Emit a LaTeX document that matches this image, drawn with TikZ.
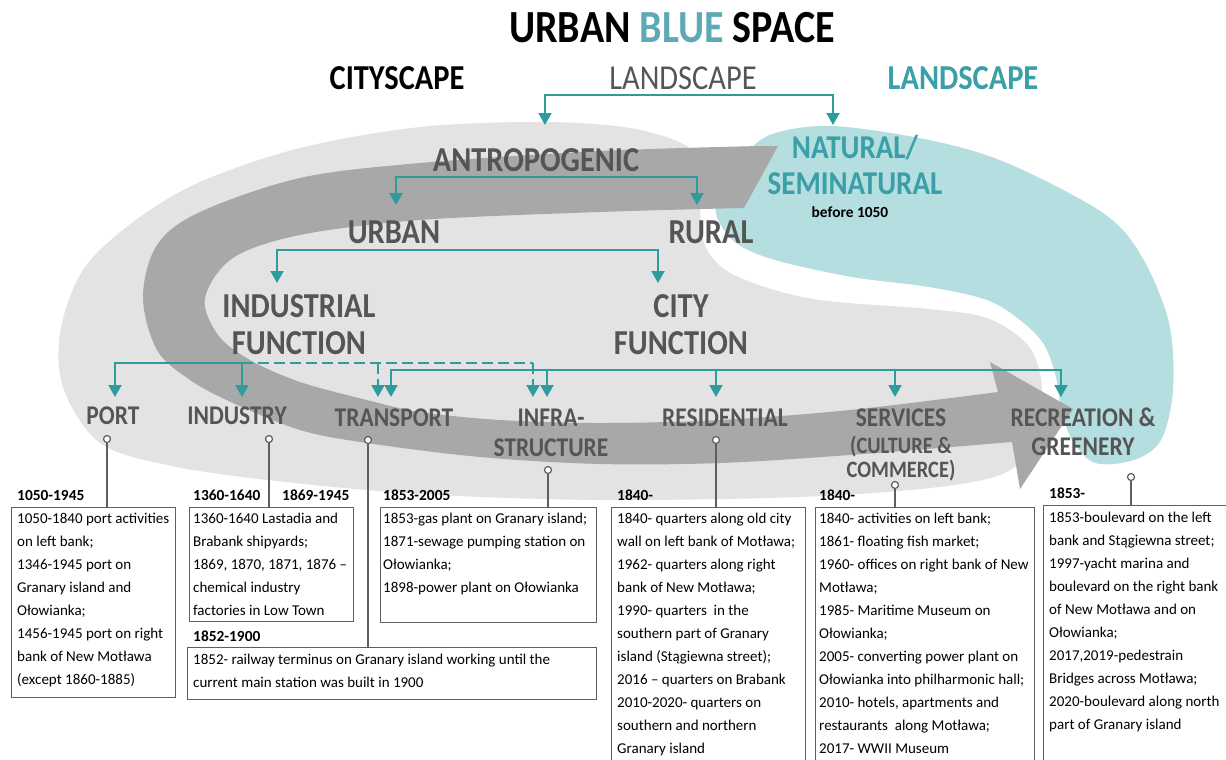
\documentclass[tikz,border=0pt]{standalone}
\usepackage{fontspec}
\setmainfont{Carlito}
\newfontfamily\labf{Carlito}[FakeStretch=0.87]
\usetikzlibrary{arrows.meta}
\definecolor{lgray}{HTML}{E3E3E3}
\definecolor{bandc}{HTML}{A8A8A8}
\definecolor{tfill}{HTML}{B4DEDF}
\definecolor{tline}{HTML}{2E9C9D}
\definecolor{ttext}{HTML}{3A9FA6}
\definecolor{tblue}{HTML}{5EA9B6}
\definecolor{gtext}{HTML}{555555}
\definecolor{bline}{HTML}{5F5F5F}
\newcommand\fl{\rule{0pt}{12pt}}
\tikzset{
  ttl/.style={font=\labf\bfseries\fontsize{46}{46}\selectfont, inner sep=0, anchor=base},
  big/.style={font=\labf\bfseries\fontsize{35}{35}\selectfont, text=gtext, inner sep=0, anchor=base},
  bigreg/.style={font=\labf\fontsize{35}{35}\selectfont, text=gtext, inner sep=0, anchor=base},
  nat/.style={font=\labf\bfseries\fontsize{33.3}{33}\selectfont, text=ttext, inner sep=0, anchor=base},
  lab/.style={font=\labf\bfseries\fontsize{27}{27}\selectfont, text=gtext, inner sep=0, anchor=base},
  labs/.style={font=\labf\bfseries\fontsize{23.5}{23}\selectfont, text=gtext, inner sep=0, anchor=base},
  tbr/.style={draw=tline, line width=2pt, arrows={Triangle[width=13pt,length=12pt]-Triangle[width=13pt,length=12pt]}},
  tar/.style={draw=tline, line width=2pt, arrows={-Triangle[width=13pt,length=12pt]}},
  tdash/.style={draw=tline, line width=2pt, dash pattern=on 11pt off 5pt},
  bx/.style={draw=bline, line width=1.4pt, fill=white, anchor=north west, inner sep=0},
  tx/.style={font=\fontsize{15}{23}\selectfont, align=left, anchor=north west, inner sep=0},
  hd/.style={font=\bfseries\fontsize{15.4}{15}\selectfont, anchor=base west, inner sep=0},
  lc/.style={circle, draw=bline, line width=1.2pt, fill=white, minimum size=7pt, inner sep=0},
  ld/.style={draw=bline, line width=1.4pt}
}
\begin{document}
\begin{tikzpicture}[x=1pt,y=-1pt]
\useasboundingbox (0,0) rectangle (1226,760);
% background shapes
\fill[lgray] plot[smooth cycle, tension=0.55] coordinates {
 (543,122) (420,127) (300,148) (200,182) (133,222) (83,270) (60,333) (64,390)
 (100,443) (167,465) (267,480) (420,494) (600,500) (800,497) (930,488) (1000,475)
 (1030,450) (1041,407) (1040,373) (1026,343) (987,318) (929,309) (813,299)
 (736,276) (706,248) (700,210) (703,170) (685,145) (630,128)};
\fill[tfill] plot[smooth cycle, tension=0.55] coordinates {
 (748,150) (775,133) (833,126) (929,140) (1007,163) (1103,213) (1142,257)
 (1169,323) (1173,390) (1161,440) (1134,460) (1095,463) (1072,440) (1061,407)
 (1055,373) (1043,343) (1020,320) (987,300) (929,287) (852,277) (775,260)
 (736,243) (717,217) (717,190) (728,167)};
\fill[bandc] (778,146) -- plot[smooth, tension=0.55] coordinates {
 (760,146) (600,151) (420,163) (300,178) (200,212) (157,245) (143,297) (157,350)
 (190,380) (233,403) (300,430) (367,443) (480,457) (600,464) (720,463) (850,455) (1012,442)}
 -- (1020,489) -- (1073,409) -- (990,362) -- plot[smooth, tension=0.55] coordinates {
 (998,392) (850,410) (720,420) (600,423) (500,420) (420,412) (367,400) (300,382)
 (250,360) (218,335) (205,298) (233,258) (300,235) (420,220) (600,212) (744,208)}
 -- cycle;

% titles
\node[ttl] (title) at (672,42.5) {URBAN \textcolor{tblue}{BLUE} SPACE};
\node[big, text=black] (cityscape) at (397,89) {CITYSCAPE};
\node[bigreg] (landscape) at (683,89) {LANDSCAPE};
\node[big, text=ttext] (landscape2) at (963,89) {LANDSCAPE};
\node[big] (antro) at (536,171) {ANTROPOGENIC};
\node[nat] (nat1) at (855,158.5) {NATURAL/};
\node[nat] (nat2) at (855,194.5) {SEMINATURAL};
\node[font=\bfseries\fontsize{15.4}{15}\selectfont, inner sep=0, anchor=base] (before) at (850,217.5) {before 1050};
\node[big] (urban) at (394,243) {URBAN};
\node[big] (rural) at (711,243) {RURAL};
\node[big] (indf1) at (299,317) {INDUSTRIAL};
\node[big] (indf2) at (299,354) {FUNCTION};
\node[big] (cityf1) at (681,317) {CITY};
\node[big] (cityf2) at (681,354) {FUNCTION};

% category labels
\node[lab] (port) at (113,424.5) {PORT};
\node[lab] (industry) at (237,424.5) {INDUSTRY};
\node[lab] (transport) at (394,426.5) {TRANSPORT};
\node[lab] (infra1) at (551,426.5) {INFRA-};
\node[lab] (infra2) at (551,456.5) {STRUCTURE};
\node[lab] (resid) at (725,426.5) {RESIDENTIAL};
\node[lab] (serv1) at (901,426.5) {SERVICES};
\node[labs] (serv2) at (901,453.4) {(CULTURE \&};
\node[labs] (serv3) at (901,477.4) {COMMERCE)};
\node[lab] (rec1) at (1083,426.5) {RECREATION \&};
\node[lab] (rec2) at (1083,455.5) {GREENERY};

% teal connectors
\coordinate (lsL) at (545,125); \coordinate (lsR) at (833,125); \coordinate (lsbar) at (683,95);
\draw[tbr] (lsL) |- (lsbar) -| (lsR);
\coordinate (anL) at (396,205); \coordinate (anR) at (697,205); \coordinate (anbar) at (536,177);
\draw[tbr] (anL) |- (anbar) -| (anR);
\coordinate (urL) at (277,283); \coordinate (urR) at (658,283); \coordinate (urbar) at (470,250);
\draw[tbr] (urL) |- (urbar) -| (urR);
% industrial function
\coordinate (pA) at (115,397); \coordinate (iA) at (242,397); \coordinate (indbar) at (180,363);
\draw[tbr] (pA) |- (indbar) -| (iA);
\coordinate (dj1) at (242,363); \coordinate (dj2) at (533,363); \coordinate (dj3) at (378,363);
\coordinate (tdA) at (378,397); \coordinate (fdA) at (533,397);
\draw[tdash] (dj1) -- (dj2);
\draw[tdash, arrows={-Triangle[width=13pt,length=12pt]}] (dj3) -- (tdA);
\draw[tdash, arrows={-Triangle[width=13pt,length=12pt]}] (dj2) -- (fdA);
% city function
\coordinate (tB) at (391,397); \coordinate (recA) at (1061,397); \coordinate (citybar) at (700,370);
\draw[tbr] (tB) |- (citybar) -| (recA);
\coordinate (c1) at (547,370); \coordinate (c1a) at (547,397);
\coordinate (c2) at (716,370); \coordinate (c2a) at (716,397);
\coordinate (c3) at (895,370); \coordinate (c3a) at (895,397);
\draw[tar] (c1) -- (c1a);
\draw[tar] (c2) -- (c2a);
\draw[tar] (c3) -- (c3a);

% boxes
\node[bx, minimum width=164pt, minimum height=190pt] (portbox) at (11,507) {};
\node[bx, minimum width=164pt, minimum height=114pt] (indbox) at (189,507) {};
\node[bx, minimum width=216pt, minimum height=115pt] (infrabox) at (380,507) {};
\node[bx, minimum width=409pt, minimum height=52pt] (transbox) at (187,647) {};
\node[bx, minimum width=194pt, minimum height=260pt] (resbox) at (611,507) {};
\node[bx, minimum width=219pt, minimum height=260pt] (servbox) at (815,507) {};
\node[bx, minimum width=190pt, minimum height=262pt] (recbox) at (1043,505) {};

% headers
\node[hd] (h1) at (17,500) {1050-1945};
\node[hd] (h2) at (193,500) {1360-1640};
\node[hd] (h3) at (282,500) {1869-1945};
\node[hd] (h4) at (383,500) {1853-2005};
\node[hd] (h5) at (193,641) {1852-1900};
\node[hd] (h6) at (617,500) {1840-};
\node[hd] (h7) at (819,500) {1840-};
\node[hd] (h8) at (1049,498) {1853-};

% box texts
\node[tx] (t1) at (17,511.7) {\fl 1050-1840 port activities\\on left bank;\\1346-1945 port on\\Granary island and\\Ołowianka;\\1456-1945 port on right\\bank of New Motława\\(except 1860-1885)};
\node[tx] (t2) at (193,511.7) {\fl 1360-1640 Lastadia and\\Brabank shipyards;\\1869, 1870, 1871, 1876 –\\chemical industry\\factories in Low Town};
\node[tx] (t3) at (383,511.7) {\fl 1853-gas plant on Granary island;\\1871-sewage pumping station on\\Ołowianka;\\1898-power plant on Ołowianka};
\node[tx] (t4) at (193,652.7) {\fl 1852- railway terminus on Granary island working until the\\current main station was built in 1900};
\node[tx] (t5) at (617,511.7) {\fl 1840- quarters along old city\\wall on left bank of Motława;\\1962- quarters along right\\bank of New Motława;\\1990- quarters\ \ in the\\southern part of Granary\\island (Stągiewna street);\\2016 – quarters on Brabank\\2010-2020- quarters on\\southern and northern\\Granary island};
\node[tx] (t6) at (819,511.7) {\fl 1840- activities on left bank;\\1861- floating fish market;\\1960- offices on right bank of New\\Motława;\\1985- Maritime Museum on\\Ołowianka;\\2005- converting power plant on\\Ołowianka into philharmonic hall;\\2010- hotels, apartments and\\restaurants\ \ along Motława;\\2017- WWII Museum};
\node[tx] (t7) at (1049,510.7) {\fl 1853-boulevard on the left\\bank and Stągiewna street;\\1997-yacht marina and\\boulevard on the right bank\\of New Motława and on\\Ołowianka;\\2017,2019-pedestrain\\Bridges across Motława;\\2020-boulevard along north\\part of Granary island};

% leader circles and lines
\node[lc] (portc) at (107,439) {};
\node[lc] (indc) at (269,439) {};
\node[lc] (transc) at (368,440) {};
\node[lc] (infrac) at (548,470) {};
\node[lc] (resc) at (716,440) {};
\node[lc] (servc) at (895,485) {};
\node[lc] (recc) at (1131,477) {};
\draw[ld] (portc.south) -- (portc.south |- portbox.north);
\draw[ld] (indc.south) -- (indc.south |- indbox.north);
\draw[ld] (transc.south) -- (transc.south |- transbox.north);
\draw[ld] (infrac.south) -- (infrac.south |- infrabox.north);
\draw[ld] (resc.south) -- (resc.south |- resbox.north);
\draw[ld] (servc.south) -- (servc.south |- servbox.north);
\draw[ld] (recc.south) -- (recc.south |- recbox.north);
\end{tikzpicture}
\end{document}
